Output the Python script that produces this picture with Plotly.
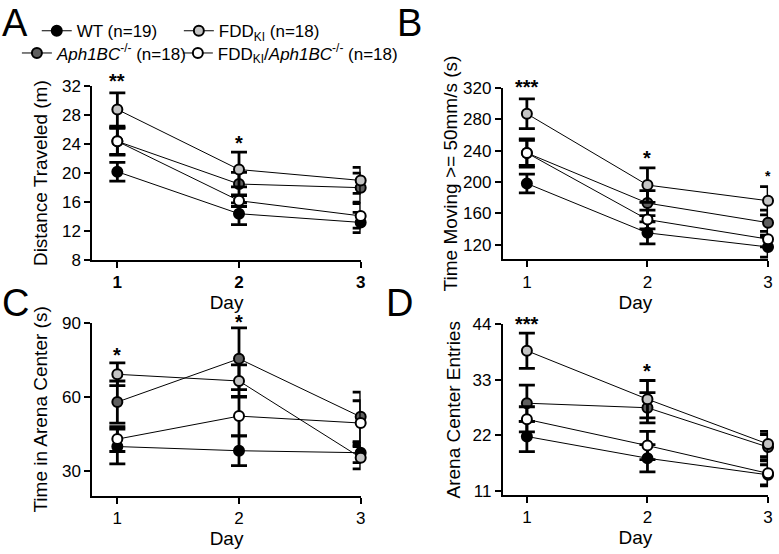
import plotly.graph_objects as go

# ---------------- data ----------------
days = [1, 2, 3]
group_names = ["WT (n=19)",
               "<i>Aph1BC</i><sup>-/-</sup> (n=18)",
               "FDD<sub>KI</sub> (n=18)",
               "FDD<sub>KI</sub>/<i>Aph1BC</i><sup>-/-</sup> (n=18)"]
group_colors = ["#000000", "#5f5f5f", "#c4c4c4", "#ffffff"]

# Panel A: Distance traveled (m)
dist_wt = [20.2, 14.4, 13.2]
dist_wt_err = [1.3, 1.5, 1.4]
dist_aph = [24.4, 18.5, 18.0]
dist_aph_err = [1.9, 1.6, 2.0]
dist_fdd = [28.8, 20.5, 19.0]
dist_fdd_err = [2.3, 2.4, 1.8]
dist_fddaph = [24.4, 16.2, 14.1]
dist_fddaph_err = [1.8, 0.8, 1.7]

# Panel B: Time moving >= 50 mm/s (s)
move_wt = [198, 135, 117]
move_wt_err = [12, 14, 13]
move_aph = [237, 173, 148]
move_aph_err = [18, 16, 16]
move_fdd = [287, 196, 176]
move_fdd_err = [19, 22, 18]
move_fddaph = [237, 152, 127]
move_fddaph_err = [16, 12, 10]

# Panel C: Time in arena center (s)
center_wt = [40.0, 38.3, 37.5]
center_wt_err = [7.0, 6.0, 4.0]
center_aph = [58.0, 75.5, 52.0]
center_aph_err = [8.5, 12.5, 10.0]
center_fdd = [69.2, 66.5, 35.5]
center_fdd_err = [4.6, 6.5, 4.5]
center_fddaph = [43.0, 52.3, 49.5]
center_fddaph_err = [5.0, 8.0, 9.0]

# Panel D: Arena center entries
entries_wt = [21.8, 17.5, 14.2]
entries_wt_err = [3.0, 2.7, 2.0]
entries_aph = [28.4, 27.5, 19.7]
entries_aph_err = [3.6, 3.0, 2.5]
entries_fdd = [38.8, 29.2, 20.3]
entries_fdd_err = [3.5, 3.7, 2.5]
entries_fddaph = [25.2, 20.0, 14.5]
entries_fddaph_err = [2.5, 2.8, 2.5]

# significance marks: (day, label text, font size)
stars_a = [(1, "**", 20), (2, "*", 20)]
stars_b = [(1, "***", 20), (2, "*", 20), (3, "*", 14)]
stars_c = [(1, "*", 20), (2, "*", 20)]
stars_d = [(1, "***", 20), (2, "*", 20)]
# vertical anchor value of each mark (on the axis scale) and extra pixel lift
stars_a_y = [(32, 3), (23.9, 0)]
stars_b_y = [(318.4, 0), (228.4, 0), (205, 0)]
stars_c_y = [(76.3, 0), (90, -1)]
stars_d_y = [(43.75, 0), (34.3, 0)]

FONT = "Liberation Sans, Arial, sans-serif"

panels = [
    ("x", "y", [(dist_wt, dist_wt_err), (dist_aph, dist_aph_err),
                (dist_fdd, dist_fdd_err), (dist_fddaph, dist_fddaph_err)], stars_a, stars_a_y),
    ("x2", "y2", [(move_wt, move_wt_err), (move_aph, move_aph_err),
                  (move_fdd, move_fdd_err), (move_fddaph, move_fddaph_err)], stars_b, stars_b_y),
    ("x3", "y3", [(center_wt, center_wt_err), (center_aph, center_aph_err),
                  (center_fdd, center_fdd_err), (center_fddaph, center_fddaph_err)], stars_c, stars_c_y),
    ("x4", "y4", [(entries_wt, entries_wt_err), (entries_aph, entries_aph_err),
                  (entries_fdd, entries_fdd_err), (entries_fddaph, entries_fddaph_err)], stars_d, stars_d_y),
]

fig = go.Figure()
legend_ids = ["legend", "legend2", "legend3", "legend4"]

for pi, (xa, ya, series, stars, stars_y) in enumerate(panels):
    for gi, (vals, errs) in enumerate(series):
        fig.add_trace(go.Scatter(
            x=days, y=vals, xaxis=xa, yaxis=ya,
            mode="lines+markers",
            name=group_names[gi],
            legend=legend_ids[gi],
            showlegend=(pi == 0),
            line=dict(color="black", width=1),
            marker=dict(size=10, color=group_colors[gi],
                        line=dict(color="black", width=2)),
            error_y=dict(type="data", array=errs, visible=True,
                         color="black", thickness=2.8, width=8),
            cliponaxis=False,
        ))
    for (d, txt, sz), (yv, lift) in zip(stars, stars_y):
        fig.add_annotation(x=d, y=yv, xref=xa, yref=ya, text=txt,
                           showarrow=False, yanchor="middle", yshift=2 + lift,
                           font=dict(size=sz, color="black", family=FONT, weight="bold"))

W, H = 779, 554
def xd(a, b):
    return [a / W, b / W]
def yd(top, bottom):
    return [1 - bottom / H, 1 - top / H]

TICKF = dict(size=17, color="black", family=FONT)
axis_common = dict(showline=True, linewidth=2, linecolor="black", ticks="outside",
                   ticklen=6, tickwidth=2, tickcolor="black", showgrid=False,
                   zeroline=False)
TSZ = 19

fig.update_layout(
    width=W, height=H, margin=dict(l=0, r=0, t=0, b=0),
    paper_bgcolor="white", plot_bgcolor="white",
    font=dict(family=FONT, color="black"),
    xaxis=dict(domain=xd(93, 363), range=[0.795, 3.0], tickvals=days,
               title=dict(text="Day", font=dict(size=TSZ), standoff=2),
               anchor="y", tickfont=dict(TICKF, weight="bold"), **axis_common),
    yaxis=dict(domain=yd(80, 260), range=[8, 32], tickvals=[8, 12, 16, 20, 24, 28, 32],
               title=dict(text="Distance Traveled (m)", font=dict(size=TSZ), standoff=9),
               anchor="x", tickfont=TICKF, **axis_common),
    xaxis2=dict(domain=xd(506, 773), range=[0.80, 3.0], tickvals=days,
                title=dict(text="Day", font=dict(size=TSZ), standoff=2),
                anchor="y2", tickfont=TICKF, **axis_common),
    yaxis2=dict(domain=yd(81.7, 259), range=[101.5, 320], tickvals=[120, 160, 200, 240, 280, 320],
                title=dict(text="Time Moving >= 50mm/s (s)", font=dict(size=TSZ), standoff=0),
                anchor="x2", tickfont=TICKF, **axis_common),
    xaxis3=dict(domain=xd(93, 363), range=[0.795, 3.0], tickvals=days,
                title=dict(text="Day", font=dict(size=TSZ), standoff=4),
                anchor="y3", tickfont=TICKF, **axis_common),
    yaxis3=dict(domain=yd(325, 504.3), range=[20, 90], tickvals=[30, 60, 90],
                title=dict(text="Time in Arena Center (s)", font=dict(size=TSZ), standoff=9),
                anchor="x3", tickfont=TICKF, **axis_common),
    xaxis4=dict(domain=xd(506, 773), range=[0.80, 3.0], tickvals=days,
                title=dict(text="Day", font=dict(size=TSZ), standoff=4),
                anchor="y4", tickfont=TICKF, **axis_common),
    yaxis4=dict(domain=yd(326.7, 503.3), range=[10.2, 44], tickvals=[11, 22, 33, 44],
                title=dict(text="Arena Center Entries", font=dict(size=TSZ), standoff=7),
                anchor="x4", tickfont=TICKF, **axis_common),
)

leg_common = dict(bgcolor="rgba(0,0,0,0)", font=dict(size=17, family=FONT, color="black"),
                  xanchor="left", yanchor="middle", itemwidth=30)
fig.update_layout(
    legend=dict(x=37 / W, y=1 - 23 / H, **leg_common),
    legend2=dict(x=17 / W, y=1 - 46 / H, **leg_common),
    legend3=dict(x=180 / W, y=1 - 23 / H, **leg_common),
    legend4=dict(x=179 / W, y=1 - 46 / H, **leg_common),
)

# panel letters
for (lx, ly, letter) in [(0, 0, "A"), (398, 0, "B"), (0, 290, "C"), (386, 290, "D")]:
    fig.add_annotation(x=lx / W, y=1 - ly / H, xref="paper", yref="paper", text=letter,
                       showarrow=False, xanchor="left", yanchor="top", yshift=9,
                       font=dict(size=38, family=FONT, color="black"))

fig.write_html("out.html", config={"displayModeBar": False},
               post_script="document.body.style.margin='0';")
